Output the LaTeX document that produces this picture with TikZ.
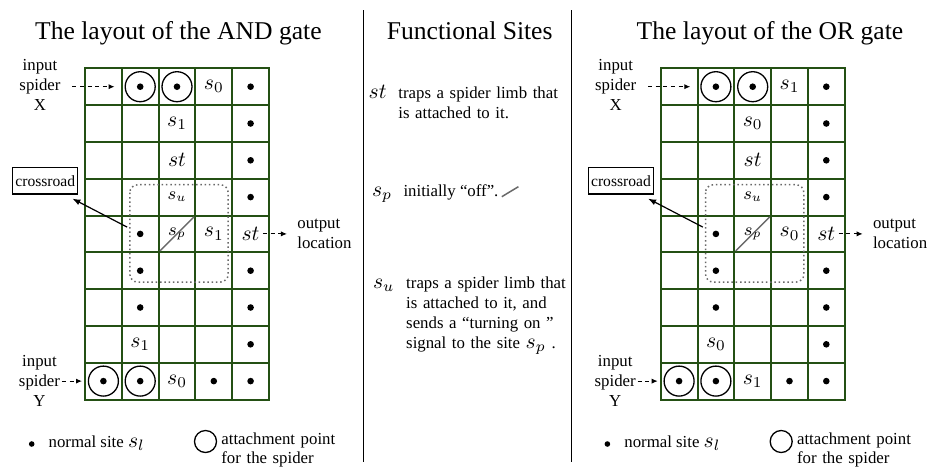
\RequirePackage{fix-cm}
\documentclass[tikz,border=0pt]{standalone}
\usepackage[no-math]{fontspec}
\setmainfont{Liberation Serif}
\usetikzlibrary{arrows.meta, positioning}

\definecolor{gridgreen}{RGB}{36,80,20}
\definecolor{markgray}{RGB}{105,105,105}

% math in the site labels is set a bit larger than the text
\newcommand{\sitemath}[1]{{\fontsize{10.8}{12}\selectfont$#1$}}

\begin{document}
\begin{tikzpicture}[
    x=0.5pt, y=-0.5pt,
    cell/.style={draw=gridgreen, line width=1pt, minimum size=18.4pt, inner sep=0pt, outer sep=0pt},
    site/.style={circle, fill=black, minimum size=3.3pt, inner sep=0pt},
    attach/.style={circle, draw, line width=0.65pt, minimum size=15pt, inner sep=0pt},
    sitelab/.style={font=\fontsize{10.8}{12}\selectfont, inner sep=0pt},
    sitelabsmall/.style={font=\fontsize{8.8}{10}\selectfont, inner sep=0pt},
    heading/.style={font=\fontsize{12.8}{15}\selectfont, inner sep=0pt, anchor=base},
    body/.style={font=\fontsize{8.4}{10}\selectfont, inner sep=0pt},
    crossbox/.style={draw, line width=0.6pt, font=\fontsize{7.8}{9}\selectfont, inner xsep=1.3pt, minimum height=13.3pt},
    region/.style={draw=markgray, line width=0.75pt, dash pattern=on 0.75pt off 1.4pt, rounded corners=4pt},
    offmark/.style={draw=markgray, line width=0.75pt},
    dasharrow/.style={dash pattern=on 2pt off 1.8pt, line width=0.5pt, -{Latex[length=3pt, width=2.6pt]}},
    pointer/.style={line width=0.6pt, -{Latex[length=4pt, width=3pt]}},
    separator/.style={line width=0.5pt}
]
    \useasboundingbox (0,0) rectangle (928,468);

    % column separators
    \draw[separator] (363.3,10) -- (363.3,462);
    \draw[separator] (571.7,10) -- (571.7,462);

    % both gates share one layout, only s_0 and s_1 trade places
    \foreach \g/\dx/\gname/\tx/\sfirst/\ssecond in {and/0/AND/178.4/0/1, or/575.7/OR/194.3/1/0}{
    \begin{scope}[xshift=\dx*0.5pt]
        \node[heading] (\g-title) at (\tx,39.3) {The layout of the \gname\ gate};

        % 9 x 5 board of sites
        \foreach \row in {1,...,9}
            \foreach \col in {1,...,5}
                \node[cell] (\g-\row-\col) at ({85+(\col-0.5)*36.8},{68.3+(\row-0.5)*36.8}) {};

        % attachment points of the two spiders
        \foreach \p in {1-2,1-3,9-1,9-2}
            \node[attach] (\g-att-\p) at (\g-\p) {};

        % normal sites
        \foreach \p in {1-2,1-3,1-5,2-5,3-5,4-5,5-2,6-2,6-5,7-2,7-5,8-5,9-1,9-2,9-4,9-5}
            \node[site] (\g-dot-\p) at (\g-\p) {};

        % functional sites
        \node[sitelab] at (\g-1-4) {$s_\sfirst$};
        \node[sitelab] at (\g-2-3) {$s_\ssecond$};
        \node[sitelab] at (\g-3-3) {$st$};
        \node[sitelabsmall] at (\g-4-3) {$s_u$};
        \node[sitelabsmall] at (\g-5-3) {$s_p$};
        \node[sitelab] at (\g-5-4) {$s_\ssecond$};
        \node[sitelab] (\g-st) at (\g-5-5) {$st$};
        \node[sitelab] at (\g-8-2) {$s_\ssecond$};
        \node[sitelab] at (\g-9-3) {$s_\sfirst$};
        \draw[offmark, shorten <=1pt, shorten >=1pt] (\g-5-3.south west) -- (\g-5-3.north east);

        % the crossroad
        \draw[region] ([shift={(8,6)}]\g-4-2.north west) rectangle ([shift={(-4,-7)}]\g-6-4.south east);
        \node[crossbox] (\g-cross) at (45.3,180.7) {crossroad};
        \draw[pointer, shorten <=5.5pt] (\g-dot-5-2) -- ([shift={(-6,4)}]\g-cross.south east);

        % inputs and output
        \node[body, text width=22pt, align=center, anchor=base] (\g-inX) at (40,70.7) {input\\spider\\X};
        \node[body, text width=22pt, align=center, anchor=base] (\g-inY) at (39.5,366) {input\\spider\\Y};
        \node[body, align=left, right=18.5pt of \g-st] (\g-out) {output\\location};
        \draw[dasharrow, shorten <=5pt, shorten >=5pt] (\g-inX.east |- \g-att-1-2) -- (\g-att-1-2.west);
        \draw[dasharrow, shorten >=1.5pt] (\g-inY.east |- \g-9-1) -- (\g-9-1.west);
        \draw[dasharrow, shorten <=1.5pt, shorten >=5pt] (\g-st) -- (\g-out);

        % legend
        \node[site, minimum size=2.8pt] (\g-leg-dot) at (31.7,444) {};
        \node[body, anchor=base west] (\g-leg-dot-txt) at (48.3,447) {normal site \sitemath{s_l}};
        \node[attach, minimum size=11pt] (\g-leg-att) at (205.5,441.5) {};
        \node[body, font=\fontsize{8.4}{9.75}\selectfont, text width=62pt, align=left, anchor=base west] (\g-leg-att-txt) at (221,444) {attachment point\\for the spider};
    \end{scope}
    }

    % functional sites in the middle column
    \node[heading] (fs-title) at (469.7,39.3) {Functional Sites};
    \node[sitelab, anchor=base west] (fs-st) at (368.3,98.3) {$st$};
    \node[body, text width=85pt, align=left, base right=5.5pt of fs-st] (fs-st-txt) {traps a spider limb that\\is attached to it.};
    \node[sitelab, anchor=base west] (fs-sp) at (371.7,196) {$s_p$};
    \node[body, base right=5.3pt of fs-sp] (fs-sp-txt) {initially “off”.};
    \draw[offmark] ([shift={(3,0.7)}]fs-sp-txt.base east) -- ++(16.6,-10);
    \node[sitelab, anchor=base west] (fs-su) at (372.7,288.3) {$s_u$};
    \node[body, text width=85pt, align=left, base right=5.5pt of fs-su] (fs-su-txt) {traps a spider limb that\\is attached to it, and\\sends a “turning on ”\\signal to the site \sitemath{s_p}\hspace{3pt}.};
\end{tikzpicture}
\end{document}
